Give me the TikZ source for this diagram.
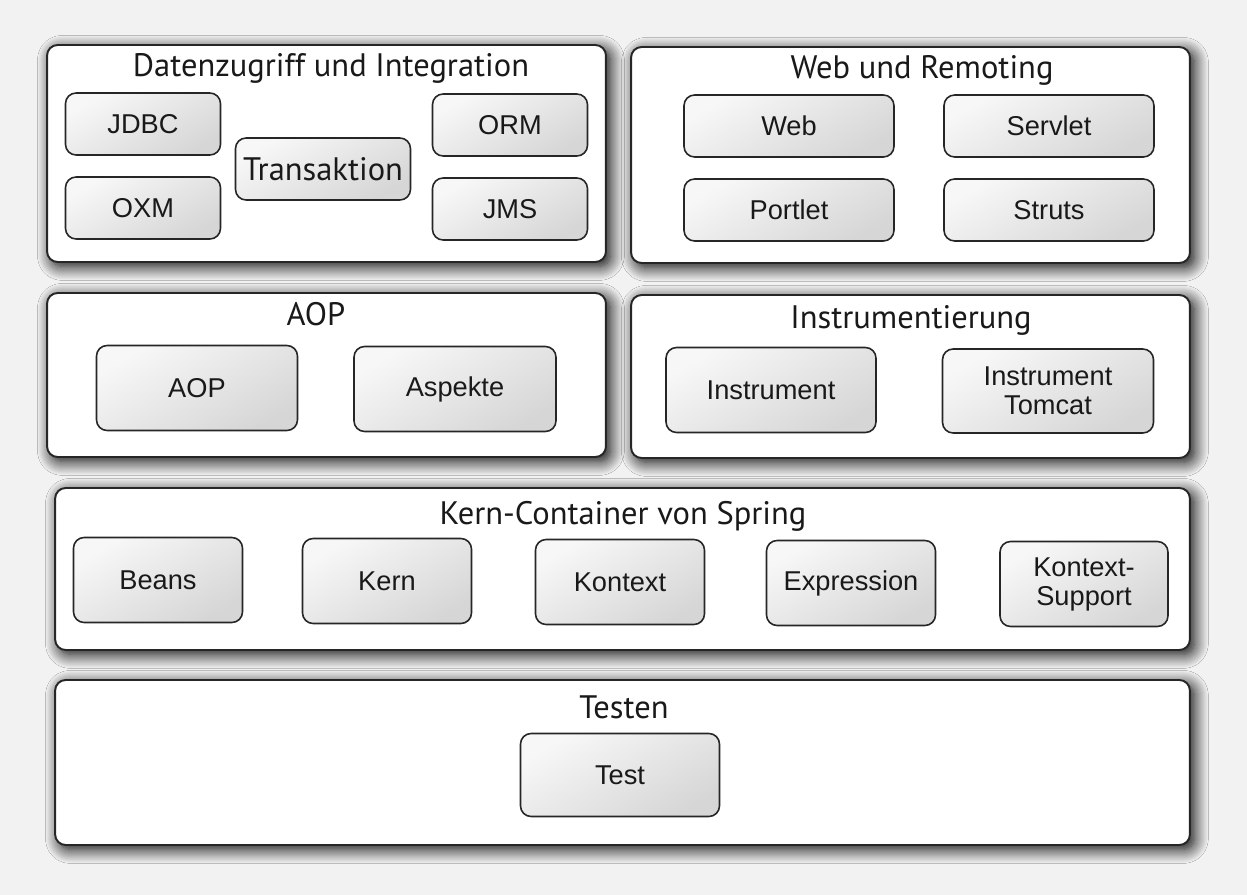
\documentclass[tikz,border=0pt]{standalone}
\usepackage{fontspec}
\setmainfont{Liberation Sans}
\newfontfamily\titlefont{PT Sans}
\usetikzlibrary{positioning, shadows.blur}

\begin{document}
\begin{tikzpicture}[
  x=0.02cm, y=-0.02cm,
  layer/.style = {draw=black!85, line width=1.1pt, rounded corners=6pt, fill=white, inner sep=0pt,
    blur shadow={shadow xshift=2.5pt, shadow yshift=-2.5pt, shadow blur steps=14, shadow blur radius=8pt, shadow opacity=100}},
  module/.style = {draw=black!85, line width=0.9pt, rounded corners=6pt, top color=gray!6, bottom color=gray!32, shading angle=30,
    align=center, inner sep=0pt, text=black!90, font=\fontsize{15.5}{16.5}\selectfont},
  heading/.style = {inner sep=0pt, text=black!90, font=\titlefont\fontsize{18.5}{20}\selectfont}
]

  % page
  \fill[gray!10] (0,0) rectangle (1247,895);
  \useasboundingbox (0,0) rectangle (1247,895);

  % Datenzugriff und Integration
  \node[layer, minimum width=11.18cm, minimum height=4.34cm] (data) at (326.5,153.5) {};
  \node[heading] (datatitle) at (331,68) {Datenzugriff und Integration};
  \node[module, minimum width=3.1cm, minimum height=1.24cm] (jdbc) at (143,124) {JDBC};
  \node[module, minimum width=3.1cm, minimum height=1.24cm] (oxm) at (143,208) {OXM};
  \node[module, minimum width=3.5cm, minimum height=1.24cm, font=\titlefont\fontsize{18.5}{20}\selectfont] (transaktion) at (323,169) {Transaktion};
  \node[module, minimum width=3.1cm, minimum height=1.24cm] (orm) at (510,125) {ORM};
  \node[module, minimum width=3.1cm, minimum height=1.24cm] (jms) at (510,209) {JMS};

  % Web und Remoting
  \node[layer, minimum width=11.18cm, minimum height=4.32cm] (webrem) at (910.5,155) {};
  \node[heading] (webtitle) at (922,70) {Web und Remoting};
  \node[module, minimum width=4.2cm, minimum height=1.24cm] (web) at (789,126) {Web};
  \node[module, minimum width=4.2cm, minimum height=1.24cm] (servlet) at (1049,126) {Servlet};
  \node[module, minimum width=4.2cm, minimum height=1.24cm] (portlet) at (789,210) {Portlet};
  \node[module, minimum width=4.2cm, minimum height=1.24cm] (struts) at (1049,210) {Struts};

  % AOP
  \node[layer, minimum width=11.18cm, minimum height=3.28cm] (aoplayer) at (326.5,375) {};
  \node[heading] (aoptitle) at (316,314) {AOP};
  \node[module, minimum width=4.02cm, minimum height=1.7cm] (aop) at (197,388) {AOP};
  \node[module, minimum width=4.04cm, minimum height=1.7cm] (aspekte) at (455,389) {Aspekte};

  % Instrumentierung
  \node[layer, minimum width=11.18cm, minimum height=3.26cm] (instr) at (910.5,376.5) {};
  \node[heading] (instrtitle) at (911,320) {Instrumentierung};
  \node[module, minimum width=4.2cm, minimum height=1.7cm] (instrument) at (771,390) {Instrument};
  \node[module, minimum width=4.22cm, minimum height=1.68cm] (tomcat) at (1048,391) {Instrument\\Tomcat};

  % Kern-Container von Spring
  \node[layer, minimum width=22.7cm, minimum height=3.24cm] (core) at (622.5,569) {};
  \node[heading] (coretitle) at (623,516) {Kern-Container von Spring};
  \node[module, minimum width=3.38cm, minimum height=1.7cm] (beans) at (158,580) {Beans};
  \node[module, minimum width=3.38cm, minimum height=1.7cm] (kern) at (387,581) {Kern};
  \node[module, minimum width=3.38cm, minimum height=1.7cm] (kontext) at (620,582) {Kontext};
  \node[module, minimum width=3.38cm, minimum height=1.7cm] (expression) at (851,583) {Expression};
  \node[module, minimum width=3.36cm, minimum height=1.7cm] (support) at (1084,584) {Kontext-\\Support};

  % Testen
  \node[layer, minimum width=22.7cm, minimum height=3.3cm] (testen) at (622.5,762.5) {};
  \node[heading] (testtitle) at (624,707) {Testen};
  \node[module, minimum width=3.98cm, minimum height=1.66cm] (test) at (620,775) {Test};

\end{tikzpicture}
\end{document}
